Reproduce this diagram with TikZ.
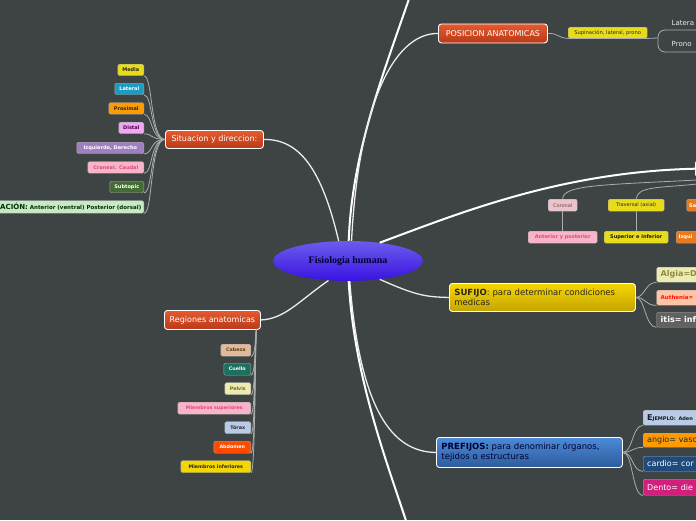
\documentclass[tikz,border=0pt]{standalone}
\usepackage{fontspec}
\setmainfont{DejaVu Sans}
\newfontfamily\titlefont{Liberation Serif}
\usetikzlibrary{shapes.geometric}
\definecolor{bg}{HTML}{3E4343}
\definecolor{lineg}{HTML}{A9ADAD}
\definecolor{orT}{HTML}{E65A2E}
\definecolor{orB}{HTML}{B9391A}
\definecolor{yeT}{HTML}{F6D600}
\definecolor{yeB}{HTML}{C4A400}
\definecolor{blT}{HTML}{4C8AD8}
\definecolor{blB}{HTML}{2D5B9A}
\definecolor{elT}{HTML}{6C5CEC}
\definecolor{elB}{HTML}{3A12E2}
\definecolor{cYel}{HTML}{E8DC1A}
\definecolor{cTeal}{HTML}{1B9CC2}
\definecolor{cOrg}{HTML}{FF9A00}
\definecolor{cViol}{HTML}{F0A8F0}
\definecolor{cPurp}{HTML}{A07FC0}
\definecolor{cPink}{HTML}{F8B4C8}
\definecolor{cPinkT}{HTML}{E04A78}
\definecolor{cGrn}{HTML}{426C32}
\definecolor{cLGrn}{HTML}{C8E8C8}
\definecolor{cTan}{HTML}{E0BA9A}
\definecolor{cDTeal}{HTML}{1C7060}
\definecolor{cPale}{HTML}{ECEBB2}
\definecolor{cLBlue}{HTML}{B8CCE8}
\definecolor{cRedO}{HTML}{FF4A00}
\definecolor{cGold}{HTML}{F2D800}
\definecolor{cRose}{HTML}{EAC4CC}
\definecolor{cOrD}{HTML}{E87A1E}
\definecolor{cSalm}{HTML}{FFC4A6}
\definecolor{cNavy}{HTML}{1F4A7C}
\definecolor{cMag}{HTML}{D0207C}
\begin{document}
\begin{tikzpicture}[x=1pt,y=-1pt,
 conn/.style={draw=lineg, line width=0.8pt},
 rootc/.style={draw=white!85!gray, line width=1.3pt},
 rootw/.style={draw=white, line width=2pt},
 mainbox/.style={draw=white, line width=0.9pt, rounded corners=3pt, inner sep=0pt, anchor=north west, font=\fontsize{8}{9.6}\selectfont},
 orangebox/.style={mainbox, top color=orT, bottom color=orB, text=white},
 leaf/.style={draw=black!35, line width=0.4pt, rounded corners=1.5pt, inner sep=0pt, anchor=north west, font=\bfseries\fontsize{5}{6}\selectfont},
 leafr/.style={leaf, anchor=north east},
 bigleaf/.style={leaf, font=\bfseries\fontsize{8}{9}\selectfont, text width=60, align=left, inner xsep=4pt, minimum height=15},
 plain/.style={font=\fontsize{7}{8}\selectfont, text=white!85!gray, inner sep=0pt, anchor=west}
]
\fill[bg] (0,0) rectangle (696,520);
\clip (0,0) rectangle (696,520);

% root
\node[ellipse, minimum width=150, minimum height=40, inner sep=0pt, top color=elT, bottom color=elB, text=black!80!blue, font=\titlefont\bfseries\fontsize{10}{12}\selectfont] (root) at (348,261) {Fisiologia humana};

% main branches
\node[orangebox, minimum width=109, minimum height=19] (pos) at (438,23.5) {POSICION ANATOMICAS};
\node[orangebox, minimum width=98, minimum height=18] (sit) at (165,130) {Situacion y direccion:};
\node[orangebox, minimum width=96, minimum height=19] (reg) at (164,310) {Regiones anatomicas};
\node[mainbox, top color=yeT, bottom color=yeB, text=black!85, font=\fontsize{8.5}{10}\selectfont, minimum width=186, minimum height=28, text width=176, align=left, inner xsep=5pt] (suf) at (449,283) {\textbf{SUFIJO}: para determinar condiciones\\medicas};
\node[mainbox, top color=blT, bottom color=blB, text=black!80!blue, font=\fontsize{8.5}{10}\selectfont, minimum width=186, minimum height=30, text width=176, align=left, inner xsep=5pt] (pre) at (436,437) {\textbf{PREFIJOS:} para denominar órganos,\\tejidos o estructuras};
\node[draw=white, fill=white, rounded corners=2pt, minimum width=40, minimum height=15, inner sep=0pt, anchor=north west] (planos) at (695,161) {};

\coordinate (topout) at (412,-10);
\coordinate (botout) at (409,530);

% root connectors
\draw[rootw] (root.88) .. controls (352,150) and (385,70) .. (topout);
\draw[rootc] (root.80) .. controls (358,110) and (392,33) .. (pos.west);
\draw[rootw] (root.30) .. controls (460,213) and (560,172) .. (planos.west);
\draw[rootc] (root.115) .. controls (322,170) and (300,139) .. (sit.east);
\draw[rootc] (root.225) .. controls (300,300) and (285,319) .. (reg.east);
\draw[rootc] (root.-30) .. controls (415,295) and (425,297) .. (suf.west);
\draw[rootc] (root.-85) .. controls (360,410) and (392,452) .. (pre.west);
\draw[rootw] (root.-88) .. controls (354,380) and (390,470) .. (botout);

% Posicion anatomicas children
\node[leaf, fill=cYel, text=black!85, font=\fontsize{5.2}{6}\selectfont, minimum width=79, minimum height=11] (supi) at (568,27) {Supinación, lateral, prono};
\node[plain] (latera) at (671.5,22.5) {Latera};
\node[plain] (prono) at (671.5,44) {Prono};
\coordinate (brk) at (658,38);
\coordinate (latu) at (700,30);
\coordinate (pronu) at (700,52);
\draw[conn] (pos.east) .. controls (558,33) and (558,38) .. (supi.south west) -- (supi.south east) -- (brk);
\draw[conn, rounded corners=7pt] (latu) -- (658,30) -- (658,52) -- (pronu);

% Situacion children
\node[leafr, fill=cYel, text=black!85, minimum width=26, minimum height=11.5] (media) at (144,64) {Media};
\node[leafr, fill=cTeal, text=white, minimum width=29, minimum height=11.5] (lat) at (144,83) {Lateral};
\node[leafr, fill=cOrg, text=black!85, minimum width=35, minimum height=11.5] (prox) at (144,102.5) {Proximal};
\node[leafr, fill=cViol, text=violet!60!black, minimum width=25, minimum height=11.5] (dist) at (144,122) {Distal};
\node[leafr, fill=cPurp, text=white, minimum width=67, minimum height=11.5] (izq) at (144,142) {Izquierdo, Derecho};
\node[leafr, fill=cPink, text=cPinkT, minimum width=56, minimum height=11.5] (cran) at (144,161.5) {Craneal. Caudal};
\node[leafr, fill=cGrn, text=white, minimum width=34, minimum height=11.5] (subt) at (144,181) {Subtopic};
\node[leafr, fill=cLGrn, text=green!20!black, minimum height=12.5, inner xsep=2.5pt, font=\bfseries\fontsize{5.5}{6.5}\selectfont] (orien) at (144,200.5) {{\fontsize{7}{8}\selectfont ACIÓN:} Anterior (ventral) Posterior (dorsal)};
\foreach \n in {media,lat,prox,dist,izq,cran,subt,orien}{
  \draw[conn] (sit.west) .. controls (150,139) and (153,0|-\n.south east) .. (\n.south east);
}

% Regiones children
\node[leafr, fill=cTan, text=brown!50!black, font=\bfseries\fontsize{4.8}{6}\selectfont, minimum width=30, minimum height=12] (cab) at (251,344) {Cabeza};
\node[leafr, fill=cDTeal, text=white, font=\bfseries\fontsize{4.8}{6}\selectfont, minimum width=27, minimum height=12] (cue) at (251,363) {Cuello};
\node[leafr, fill=cPale, text=olive!70!black, font=\bfseries\fontsize{4.8}{6}\selectfont, minimum width=26, minimum height=12] (pel) at (251,382.5) {Pelvis};
\node[leafr, fill=cPink, text=cPinkT, font=\bfseries\fontsize{4.8}{6}\selectfont, minimum width=73, minimum height=12] (msup) at (251,402) {Miembros superiores};
\node[leafr, fill=cLBlue, text=black!85, font=\bfseries\fontsize{4.8}{6}\selectfont, minimum width=26, minimum height=12] (tor) at (251,421.5) {Tórax};
\node[leafr, fill=cRedO, text=white, font=\bfseries\fontsize{4.8}{6}\selectfont, minimum width=37, minimum height=12] (abd) at (251,441) {Abdomen};
\node[leafr, fill=cGold, text=black!85, font=\bfseries\fontsize{4.8}{6}\selectfont, minimum width=70, minimum height=12] (minf) at (251,460.5) {Miembros inferiores};
\coordinate (rtop) at (256.5,329);
\foreach \n in {cab,cue,pel,msup,tor,abd,minf}{
  \draw[conn] (rtop) .. controls (255,338) and (255.5,0|-\n.south east) .. (\n.south east);
}

% Planos children
\node[leaf, fill=cRose, text=red!35!black!75!white, font=\fontsize{5}{6}\selectfont, minimum width=29, minimum height=12] (cor) at (548,199) {Coronal};
\node[leaf, fill=cYel, text=black!85, font=\fontsize{5}{6}\selectfont, minimum width=56, minimum height=12] (trav) at (608,199) {Traversal (axial)};
\node[leaf, fill=cOrD, text=white, font=\bfseries\fontsize{5}{6}\selectfont, text width=30, align=left, inner xsep=2.5pt, minimum height=12] (sag) at (686.5,199) {Sa};
\node[leaf, fill=cPink, text=cPinkT, minimum width=69, minimum height=12] (antp) at (528,231) {Anterior y posterior};
\node[leaf, fill=cYel, text=black!90, minimum width=64, minimum height=12] (supinf) at (604,231) {Superior e inferior};
\node[leaf, fill=cOrD, text=white, text width=30, align=left, inner xsep=2.5pt, minimum height=12] (izqd) at (676,231) {Izqui};
\coordinate (pl1) at (697,180);
\coordinate (pl2) at (697,184);
\coordinate (pl3) at (697,188);
\draw[conn] (pl1) .. controls (600,185) and (563,185) .. (cor.north);
\draw[conn] (pl2) .. controls (660,188) and (637,186) .. (trav.north);
\draw[conn] (pl3) .. controls (700,192) and (700,195) .. (sag.north);
\draw[conn] (cor.south) -- (antp.north);
\draw[conn] (trav.south) -- (supinf.north);

% Sufijo children
\node[bigleaf, fill=cPale, text=olive!55!gray] (alg) at (656.5,267) {Algia=D};
\node[bigleaf, fill=cSalm, text=red!85!orange, font=\bfseries\fontsize{5.5}{6}\selectfont] (ast) at (656.5,290) {Authenia=};
\node[bigleaf, fill=black!62, text=white] (itis) at (656.5,312) {itis= inf};
\foreach \n in {alg,ast,itis}{
  \draw[conn] (suf.east) .. controls (645,297) and (645,0|-\n.south west) .. (\n.south west);
}

% Prefijos children
\node[bigleaf, fill=cLBlue, text=black!90] (ej) at (643,410) {E{\fontsize{5}{6}\selectfont JEMPLO: Aden}};
\node[bigleaf, fill=cOrg, text=black!85, font=\fontsize{8}{9}\selectfont, minimum height=14] (ang) at (643,433) {angio= vaso};
\node[bigleaf, fill=cNavy, text=white, font=\fontsize{8}{9}\selectfont] (card) at (643,456) {cardio= cor};
\node[bigleaf, fill=cMag, text=white, font=\fontsize{8}{9}\selectfont, minimum height=16] (dento) at (643,479) {Dento= die};
\foreach \n in {ej,ang,card,dento}{
  \draw[conn] (pre.east) .. controls (633,452) and (632,0|-\n.south west) .. (\n.south west);
}
\end{tikzpicture}
\end{document}
